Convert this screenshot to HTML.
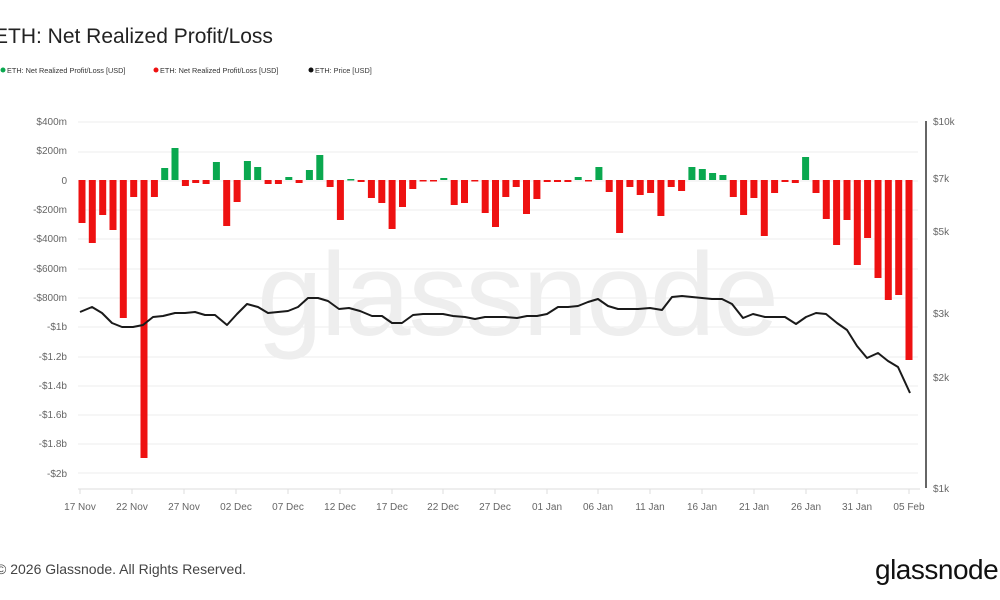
<!DOCTYPE html>
<html><head><meta charset="utf-8"><style>
html,body{margin:0;padding:0;background:#fff;width:1000px;height:600px;overflow:hidden;font-family:"Liberation Sans",sans-serif}
</style></head><body>
<svg width="1000" height="600" xmlns="http://www.w3.org/2000/svg" font-family="Liberation Sans, sans-serif">
<text x="-6" y="43" font-size="21" fill="#222">ETH: Net Realized Profit/Loss</text>
<circle cx="3" cy="70" r="2.5" fill="#0aa84f"/><text x="7" y="73" font-size="7.3" fill="#333">ETH: Net Realized Profit/Loss [USD]</text>
<circle cx="156" cy="70" r="2.5" fill="#ee1111"/><text x="160" y="73" font-size="7.3" fill="#333">ETH: Net Realized Profit/Loss [USD]</text>
<circle cx="311" cy="70" r="2.5" fill="#111"/><text x="315" y="73" font-size="7.3" fill="#333">ETH: Price [USD]</text>
<text x="517" y="335" font-size="118" fill="#eeeeee" text-anchor="middle" letter-spacing="-2">glassnode</text>
<g id="grid" stroke="#eeeeee" stroke-width="1"></g>
<g font-size="10" fill="#666" text-anchor="end">
<text x="67" y="125">$400m</text><text x="67" y="154">$200m</text><text x="67" y="184">0</text>
<text x="67" y="213">-$200m</text><text x="67" y="242">-$400m</text><text x="67" y="272">-$600m</text>
<text x="67" y="301">-$800m</text><text x="67" y="330">-$1b</text><text x="67" y="360">-$1.2b</text>
<text x="67" y="389">-$1.4b</text><text x="67" y="418">-$1.6b</text><text x="67" y="447">-$1.8b</text><text x="67" y="477">-$2b</text>
</g>
<g font-size="10" fill="#666">
<text x="933" y="125">$10k</text><text x="933" y="182">$7k</text><text x="933" y="235">$5k</text>
<text x="933" y="317">$3k</text><text x="933" y="381">$2k</text><text x="933" y="492">$1k</text>
</g>
<line x1="926" y1="121" x2="926" y2="488" stroke="#333" stroke-width="1.5"/>
<line x1="78" y1="489" x2="920" y2="489" stroke="#ddd"/>
<g id="ticks" stroke="#ddd"></g>
<g font-size="10" fill="#666" text-anchor="middle">
<text x="80" y="510">17 Nov</text><text x="132" y="510">22 Nov</text><text x="184" y="510">27 Nov</text>
<text x="236" y="510">02 Dec</text><text x="288" y="510">07 Dec</text><text x="340" y="510">12 Dec</text>
<text x="392" y="510">17 Dec</text><text x="443" y="510">22 Dec</text><text x="495" y="510">27 Dec</text>
<text x="547" y="510">01 Jan</text><text x="598" y="510">06 Jan</text><text x="650" y="510">11 Jan</text>
<text x="702" y="510">16 Jan</text><text x="754" y="510">21 Jan</text><text x="806" y="510">26 Jan</text>
<text x="857" y="510">31 Jan</text><text x="909" y="510">05 Feb</text>
</g>
<g id="bars"></g>
<polyline id="price" fill="none" stroke="#1a1a1a" stroke-width="2" stroke-linejoin="round"/>
<text x="-4" y="574" font-size="14" fill="#444">© 2026 Glassnode. All Rights Reserved.</text>
<text x="875" y="579" font-size="28" fill="#111" letter-spacing="-0.5">glassnode</text>
</svg>
<script>
var ns="http://www.w3.org/2000/svg";
function el(t,a,p){var e=document.createElementNS(ns,t);for(var k in a)e.setAttribute(k,a[k]);document.getElementById(p).appendChild(e);}
[122,152,181,210,239,269,298,327,357,386,415,444,473].forEach(function(y){el("line",{x1:78,x2:918,y1:y,y2:y},"grid");});
[80,132,184,236,288,340,392,443,495,547,598,650,702,754,806,857,909].forEach(function(x){el("line",{x1:x,x2:x,y1:489,y2:494},"ticks");});
var v=[223,243,215,230,318,197,458,197,168,148,186,183,184,162,226,202,161,167,184,184,177,183,170,155,187,220,179,182,198,
203,229,207,189,181,181,178,205,203,181,213,227,197,187,214,199,182,182,182,177,181,167,192,233,187,195,193,216,
187,191,167,169,173,175,197,215,198,236,193,182,183,157,193,219,245,220,265,238,278,300,295,360];
var step=(909-82)/(v.length-1);
for(var i=0;i<v.length;i++){var x=82+i*step,y=v[i];var g=y<180;
el("rect",{x:(x-3.5).toFixed(1),y:g?y:180,width:7,height:Math.max(Math.abs(y-180),1.5),fill:g?"#0aa84f":"#ee1111"},"bars");}
var p=[[80,312],[92,307],[102,313],[112,323],[122,327],[133,327],[143,325],[153,317],[163,316],[175,313],[185,313],[195,312],[205,315],[215,315],[227,325],[237,314],[247,304],[258,307],[268,313],[278,312],[288,311],[298,307],[308,298],[318,298],[328,301],[339,309],[349,308],[360,311],[372,316],[382,316],[392,323],[402,323],[413,315],[423,314],[433,314],[443,314],[453,316],[465,317],[475,319],[485,317],[495,317],[505,317],[517,318],[527,316],[537,316],[547,314],[558,307],[568,307],[578,306],[588,302],[598,299],[608,306],[618,309],[628,309],[638,309],[650,308],[662,310],[672,297],[682,296],[692,297],[702,298],[712,299],[722,299],[732,304],[743,318],[753,314],[765,317],[775,317],[785,317],[796,324],[806,317],[816,313],[826,314],[837,323],[847,330],[857,346],[867,358],[878,353],[888,361],[898,367],[910,393]];
document.getElementById("price").setAttribute("points",p.map(function(a){return a.join(",")}).join(" "));
</script>
</body></html>
